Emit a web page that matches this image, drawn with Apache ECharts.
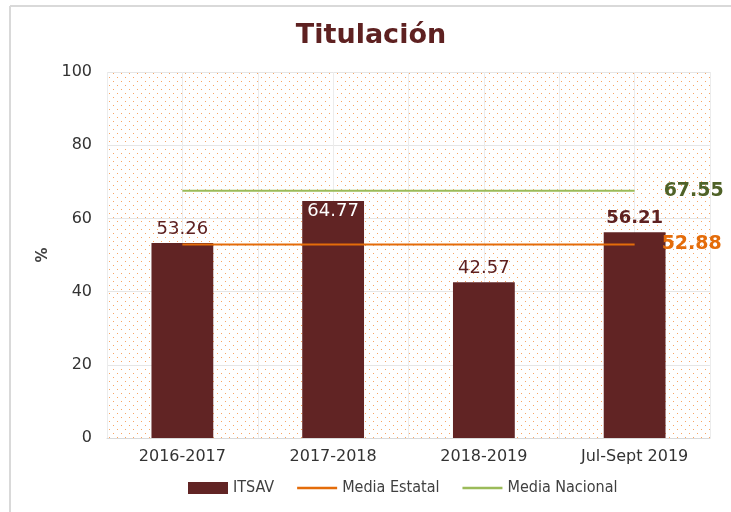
<!DOCTYPE html>
<html>
<head>
	<meta charset="utf-8">
	<title>Titulación</title>
	<script src="https://cdn.jsdelivr.net/npm/echarts@6/dist/echarts.min.js"></script>
	<style>
		html, body { margin: 0; padding: 0; background: #fff; }
		#chart { width: 731px; height: 512px; }
	</style>
</head>
<body>
	<div id="chart"></div>
	<script type="text/javascript">
		var categories = ['2016-2017', '2017-2018', '2018-2019', 'Jul-Sept 2019'];
		var itsav = [53.26, 64.77, 42.57, 56.21];
		var mediaEstatal = [52.88, 52.88, 52.88, 52.88];
		var mediaNacional = [67.55, 67.55, 67.55, 67.55];
		var yTicks = [0, 20, 40, 60, 80, 100];

		// dotted orange fill for the plot area (opaque tile)
		var dots = document.createElement('canvas');
		dots.width = 8;
		dots.height = 8;
		var ctx = dots.getContext('2d');
		ctx.fillStyle = '#ffffff';
		ctx.fillRect(0, 0, 8, 8);
		ctx.fillStyle = '#f8a565';
		ctx.fillRect(1, 1, 1, 1);
		ctx.fillRect(5, 5, 1, 1);

		var barColor = '#612424';
		var font = 'DejaVu Sans, Verdana, sans-serif';

		var barData = itsav.map(function (v, i) {
			var item = { value: v };
			if (i === 1) {
				item.label = { position: 'insideTop', color: '#fff', distance: 1 };
			}
			if (i === 3) {
				item.label = { fontWeight: 'bold' };
			}
			return item;
		});

		var chart = echarts.init(document.getElementById('chart'));
		chart.setOption({
			backgroundColor: '#fff',
			animation: false,
			graphic: [{
				type: 'line',
				shape: { x1: 10, y1: 6, x2: 731, y2: 6 },
				style: { stroke: '#d9d9d9', lineWidth: 2 },
				silent: true
			}, {
				type: 'line',
				shape: { x1: 10, y1: 6, x2: 10, y2: 512 },
				style: { stroke: '#d9d9d9', lineWidth: 2 },
				silent: true
			}],
			title: {
				text: 'Titulación',
				left: 366, top: 17, textAlign: 'center',
				textStyle: { color: '#5e2121', fontSize: 27, fontWeight: 'bold', fontFamily: font }
			},
			grid: {
				left: 107, right: 21, top: 72, bottom: 74,
				show: true,
				borderWidth: 0,
				backgroundColor: { image: dots, repeat: 'repeat' }
			},
			legend: {
				left: 183, top: 475,
				itemWidth: 40, itemHeight: 12, itemGap: 23,
				textStyle: { fontFamily: 'DejaVu Sans Condensed, Liberation Sans Narrow, sans-serif', fontSize: 16, color: '#404040' },
				data: [
					{ name: 'ITSAV', icon: 'rect' },
					{ name: 'Media Estatal', icon: 'path://M0,0H40V2.5H0Z' },
					{ name: 'Media Nacional', icon: 'path://M0,0H40V2.5H0Z' }
				]
			},
			xAxis: [{
				type: 'category',
				data: categories,
				axisTick: { show: false },
				axisLine: { lineStyle: { color: '#d9d9d9' } },
				axisLabel: { color: '#333', fontSize: 16, fontFamily: font, margin: 11, interval: 0 },
				splitLine: { show: true, interval: 0, lineStyle: { color: '#ececec' } }
			}, {
				type: 'value',
				min: 0, max: 8, interval: 1,
				show: true,
				position: 'bottom',
				axisLine: { show: false },
				axisTick: { show: false },
				axisLabel: { show: false },
				splitLine: { show: true, lineStyle: { color: '#ececec' } }
			}],
			yAxis: {
				type: 'value',
				min: yTicks[0], max: yTicks[yTicks.length - 1], interval: 20,
				name: '%',
				nameLocation: 'middle',
				nameGap: 52,
				nameTextStyle: { color: '#404040', fontSize: 15, fontWeight: 'bold', fontFamily: font },
				axisLine: { show: false },
				axisTick: { show: false },
				axisLabel: { color: '#333', fontSize: 16, fontFamily: font, margin: 15 },
				splitLine: { lineStyle: { color: '#e6e6e6' } }
			},
			series: [{
				name: 'ITSAV',
				type: 'bar',
				data: barData,
				barWidth: '41%',
				itemStyle: { color: barColor },
				label: {
					show: true, position: 'top', distance: 5,
					color: '#5e2121', fontSize: 18, fontFamily: font
				}
			}, {
				name: 'Media Estatal',
				type: 'line',
				data: mediaEstatal,
				symbol: 'none',
				itemStyle: { color: '#e46c0a' },
				lineStyle: { color: '#e46c0a', width: 2 },
				endLabel: {
					show: true, distance: 27,
					color: '#e46c0a', fontSize: 19, fontWeight: 'bold', fontFamily: font
				}
			}, {
				name: 'Media Nacional',
				type: 'line',
				data: mediaNacional,
				symbol: 'none',
				itemStyle: { color: '#9bbb59' },
				lineStyle: { color: '#9bbb59', width: 2 },
				endLabel: {
					show: true, distance: 29,
					color: '#4f6228', fontSize: 19, fontWeight: 'bold', fontFamily: font
				}
			}]
		});
	</script>
</body>
</html>
